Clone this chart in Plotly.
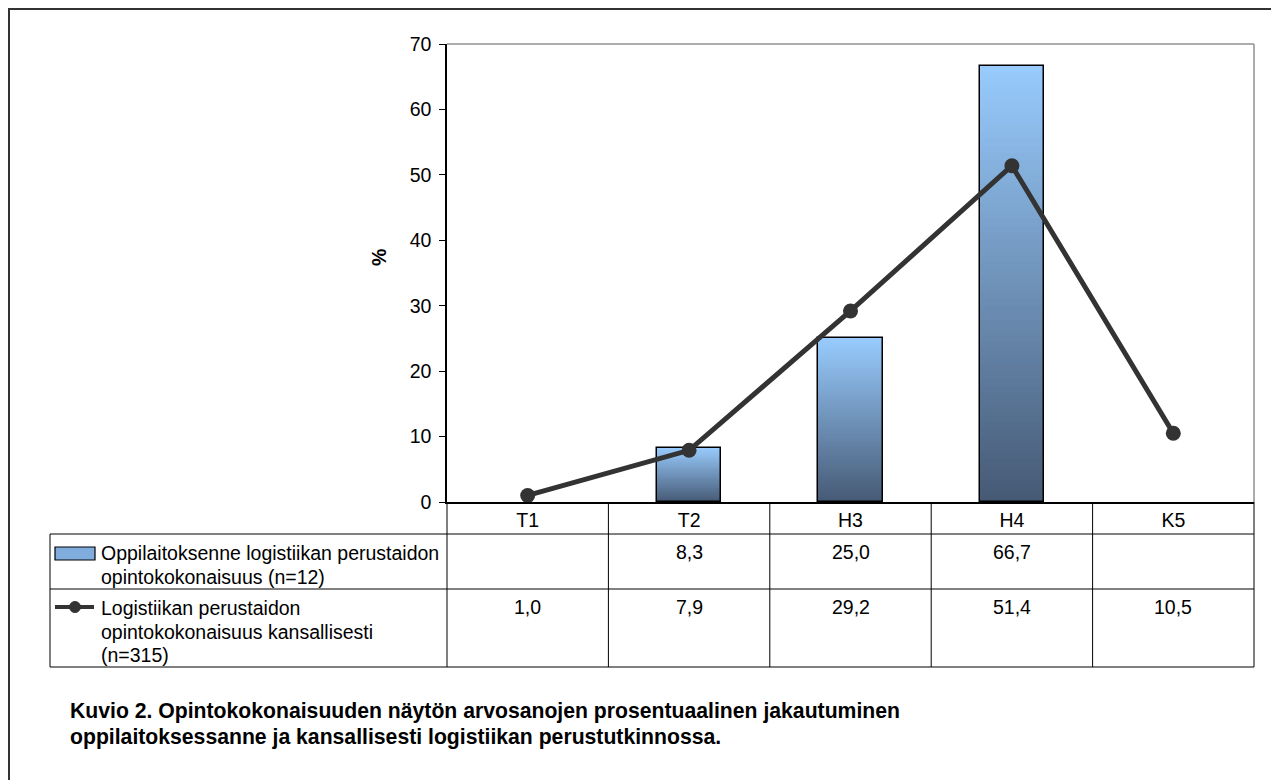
import plotly.graph_objects as go

# ---------------- data ----------------
categories = ["T1", "T2", "H3", "H4", "K5"]
school_values = [None, 8.3, 25.0, 66.7, None]
national_values = [1.0, 7.9, 29.2, 51.4, 10.5]
school_name = "Oppilaitoksenne logistiikan perustaidon<br>opintokokonaisuus (n=12)"
national_name = "Logistiikan perustaidon<br>opintokokonaisuus kansallisesti<br>(n=315)"
y_ticks = [0, 10, 20, 30, 40, 50, 60, 70]
y_title = "%"
caption = ("Kuvio 2. Opintokokonaisuuden näytön arvosanojen prosentuaalinen jakautuminen<br>"
           "oppilaitoksessanne ja kansallisesti logistiikan perustutkinnossa.")

# ---------------- layout geometry ----------------
OFF = 8                      # page body margin
W, H = 1279 - OFF, 780 - OFF
SL, SR, ST, SB = 447, 1254, 44, 502   # plot area in screen pixels
PL, PR, PT, PB = SL - OFF, SR - OFF, ST - OFF, SB - OFF


def px(xs):
    return (xs - SL) / (SR - SL)


def py(ys):
    return (SB - ys) / (SB - ST)


FONT = "Arial, Liberation Sans, Helvetica, sans-serif"
FS = 19.5
FS_CAP = 21.2

fig = go.Figure()

# gradient bars built from stacked slices
N = 60
dark = (70, 90, 117)
light = (153, 204, 255)
for i in range(N):
    f = i / N
    c = tuple(round(dark[k] + (light[k] - dark[k]) * f) for k in range(3))
    base = [v * f if v is not None else None for v in school_values]
    ys = [v * (1 - f) if v is not None else None for v in school_values]
    fig.add_trace(go.Bar(
        x=categories, y=ys, base=base, width=0.4,
        marker=dict(color="rgb(%d,%d,%d)" % c, line=dict(width=0)),
        showlegend=False, hoverinfo="skip"))

# outline of the bars
fig.add_trace(go.Bar(
    x=categories, y=school_values, width=0.4, name=school_name,
    marker=dict(color="rgba(0,0,0,0)", line=dict(color="black", width=1.5)),
    showlegend=False))

# national line
fig.add_trace(go.Scatter(
    x=categories, y=national_values, mode="lines+markers", name=national_name,
    line=dict(color="#333333", width=5),
    marker=dict(color="#333333", size=15),
    showlegend=False))

shapes = []
line_dark = dict(color="black", width=1)
# plot border (top/right gray)
shapes.append(dict(type="line", xref="paper", yref="paper", x0=0, x1=1, y0=1, y1=1,
                   line=dict(color="#909090", width=1.5)))
shapes.append(dict(type="line", xref="paper", yref="paper", x0=1, x1=1, y0=0, y1=1,
                   line=dict(color="#909090", width=1.5)))
# table horizontal lines
for ys in [534, 589, 667]:
    shapes.append(dict(type="line", xref="paper", yref="paper",
                       x0=px(50), x1=1, y0=py(ys), y1=py(ys), line=line_dark))
# table vertical lines at category boundaries
for k in range(len(categories) + 1):
    shapes.append(dict(type="line", xref="paper", yref="paper",
                       x0=k / len(categories), x1=k / len(categories),
                       y0=0, y1=py(667), line=line_dark))
# left table border
shapes.append(dict(type="line", xref="paper", yref="paper",
                   x0=px(50), x1=px(50), y0=py(534), y1=py(667), line=line_dark))
# outer frame
shapes.append(dict(type="rect", xref="paper", yref="paper",
                   x0=px(9), x1=px(1277), y0=py(9), y1=py(800),
                   line=dict(color="#333333", width=2)))
# legend icons
shapes.append(dict(type="rect", xref="paper", yref="paper",
                   x0=px(55), x1=px(95), y0=py(547), y1=py(560),
                   line=dict(color="black", width=1.2),
                   fillcolor="rgb(128,172,222)"))
shapes.append(dict(type="line", xref="paper", yref="paper",
                   x0=px(55), x1=px(94), y0=py(607), y1=py(607),
                   line=dict(color="#333333", width=4)))
shapes.append(dict(type="circle", xref="paper", yref="paper",
                   x0=px(69.5), x1=px(80.5), y0=py(601.5), y1=py(612.5),
                   line=dict(color="#333333", width=1), fillcolor="#333333"))

annotations = []


def text_lines(text, x, ys_list, size, bold=False):
    for line, ys in zip(text.split("<br>"), ys_list):
        annotations.append(dict(
            text=("<b>%s</b>" % line) if bold else line,
            xref="paper", yref="paper", x=px(x), y=py(ys),
            xanchor="left", yanchor="middle", align="left", showarrow=False,
            font=dict(family=FONT, size=size, color="black")))


# legend texts
text_lines(school_name, 99, [553, 577], FS)
text_lines(national_name, 99, [608, 632, 655], FS)


def fmt(v):
    return ("%.1f" % v).replace(".", ",")


for cat, v in zip(categories, school_values):
    if v is not None:
        annotations.append(dict(text=fmt(v), x=cat, xref="x", yref="paper",
                                y=py(552), yanchor="middle", showarrow=False,
                                font=dict(family=FONT, size=FS, color="black")))
for cat, v in zip(categories, national_values):
    if v is not None:
        annotations.append(dict(text=fmt(v), x=cat, xref="x", yref="paper",
                                y=py(607), yanchor="middle", showarrow=False,
                                font=dict(family=FONT, size=FS, color="black")))
# y title
annotations.append(dict(text="<b>" + y_title + "</b>", xref="paper", yref="paper",
                        x=px(379), y=py(258), textangle=-90, showarrow=False,
                        xanchor="center", yanchor="middle",
                        font=dict(family=FONT, size=FS, color="black")))
# caption
text_lines(caption, 68, [711, 737], FS_CAP, bold=True)

fig.update_layout(
    width=W, height=H,
    margin=dict(l=PL, r=W - PR, t=PT, b=H - PB, pad=0),
    paper_bgcolor="white", plot_bgcolor="white",
    barmode="overlay", bargap=0,
    shapes=shapes, annotations=annotations,
    font=dict(family=FONT, size=FS, color="black"),
    xaxis=dict(type="category", categoryorder="array", categoryarray=categories,
               range=[-0.5, len(categories) - 0.5],
               showline=True, linecolor="black", linewidth=1.5,
               ticks="", showgrid=False, zeroline=False,
               tickfont=dict(family=FONT, size=FS, color="black"),
               ticklabelstandoff=0),
    yaxis=dict(range=[0, 70], tickvals=y_ticks, showgrid=False, zeroline=False,
               showline=True, linecolor="black", linewidth=1.5,
               ticks="outside", ticklen=6, tickwidth=1, tickcolor="black",
               tickfont=dict(family=FONT, size=FS, color="black"),
               ticklabelstandoff=4),
    hovermode=False,
)

fig.write_html("out.html")
